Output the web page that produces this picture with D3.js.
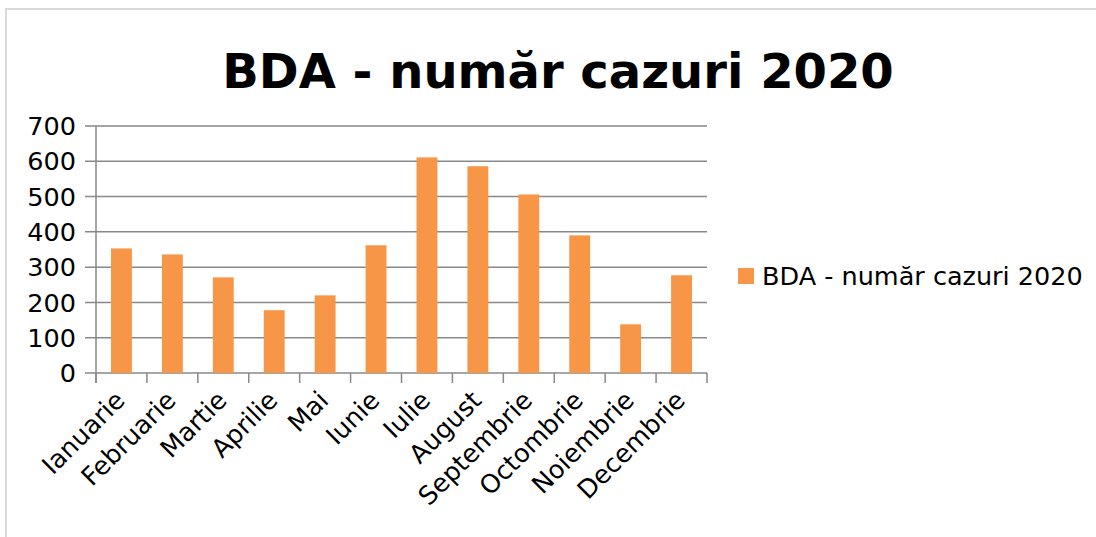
<!DOCTYPE html>
<html>
<head>
<meta charset="utf-8">
<script src="https://cdn.jsdelivr.net/npm/d3@7"></script>
<style>
  html, body { margin: 0; padding: 0; background: #fff; }
  svg { display: block; }
  text { font-family: "DejaVu Sans", sans-serif; fill: #000; }
</style>
</head>
<body>
<svg id="chart" width="1096" height="537"></svg>
<script>
const title = "BDA - număr cazuri 2020";
const seriesName = "BDA - număr cazuri 2020";
const months = ["Ianuarie","Februarie","Martie","Aprilie","Mai","Iunie","Iulie","August","Septembrie","Octombrie","Noiembrie","Decembrie"];
const cases = [353, 336, 271, 178, 220, 362, 611, 586, 506, 390, 138, 277];
const yTicks = [0, 100, 200, 300, 400, 500, 600, 700];

const svg = d3.select("#chart");
const W = 1096, H = 537;
const plotL = 96, plotR = 707, plotT = 126, plotB = 373;
const barColor = "#f79646";
const gridColor = "#898989";
const labelSize = 25.5;

// frame
svg.append("rect").attr("x", 6).attr("y", 9).attr("width", W + 20).attr("height", H + 20)
  .attr("fill", "#fff").attr("stroke", "#d9d9d9").attr("stroke-width", 2);

const x = d3.scaleBand().domain(months).range([plotL, plotR]).paddingInner(0.59).paddingOuter(0.295);
const y = d3.scaleLinear().domain([0, 700]).range([plotB, plotT]);

// gridlines
svg.append("g").selectAll("line").data(yTicks).join("line")
  .attr("x1", plotL - 11).attr("x2", plotR)
  .attr("y1", d => y(d)).attr("y2", d => y(d))
  .attr("stroke", gridColor).attr("stroke-width", 1.5);

// y axis line
svg.append("line").attr("x1", plotL).attr("x2", plotL).attr("y1", y(700)).attr("y2", plotB + 10)
  .attr("stroke", gridColor).attr("stroke-width", 1.5);

// y labels
svg.append("g").selectAll("text").data(yTicks).join("text")
  .attr("x", plotL - 20).attr("y", d => y(d)).attr("dy", "0.36em")
  .attr("text-anchor", "end").attr("font-size", labelSize).text(d => d);

// bars
svg.append("g").selectAll("rect").data(months).join("rect")
  .attr("x", d => x(d)).attr("width", x.bandwidth())
  .attr("y", (d, i) => y(cases[i])).attr("height", (d, i) => y(0) - y(cases[i]))
  .attr("fill", barColor);

// x axis ticks
const step = x.step();
const tickXs = months.map(m => x(m) - step * x.paddingInner() / 2).concat([plotR]);
svg.append("g").selectAll("line").data(tickXs).join("line")
  .attr("x1", d => d).attr("x2", d => d).attr("y1", plotB).attr("y2", plotB + 10)
  .attr("stroke", gridColor).attr("stroke-width", 1.5);

// x labels
svg.append("g").selectAll("text").data(months).join("text")
  .attr("transform", d => `translate(${x(d) + x.bandwidth() / 2 + 5},${plotB + 29}) rotate(-45)`)
  .attr("text-anchor", "end").attr("font-size", labelSize).text(d => d);

// title
svg.append("text").attr("x", 558).attr("y", 88).attr("text-anchor", "middle")
  .attr("font-size", 48).attr("font-weight", "bold").text(title);

// legend
svg.append("rect").attr("x", 738).attr("y", 268).attr("width", 16).attr("height", 16).attr("fill", barColor);
svg.append("text").attr("x", 762).attr("y", 285).attr("font-size", labelSize).text(seriesName);
</script>
</body>
</html>
